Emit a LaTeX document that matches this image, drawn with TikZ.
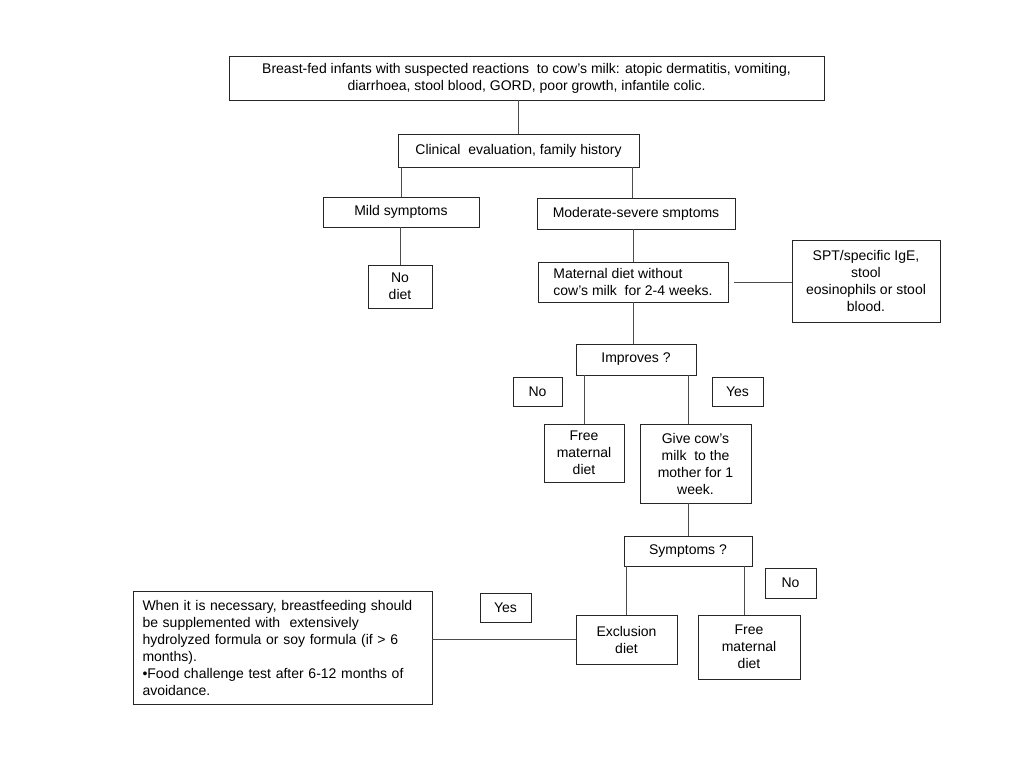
\documentclass[tikz,border=0pt]{standalone}
\usepackage{fontspec}
\setmainfont{Liberation Sans}
\begin{document}
\begin{tikzpicture}[x=1pt,y=-1pt,
  bx/.style={draw=black!85,line width=0.9pt,inner sep=0pt,font=\fontsize{14}{17}\selectfont,align=center},
  ln/.style={draw=black!70,line width=0.9pt}]
\useasboundingbox[fill=white] (0,0) rectangle (1024,768);
\node[bx,minimum width=595,minimum height=44] (top) at (526.5,78) {Breast-fed infants with suspected reactions\ \ to cow’s milk: atopic dermatitis, vomiting,\\diarrhoea, stool blood, GORD, poor growth, infantile colic.};
\node[bx,minimum width=241,minimum height=33] (clin) at (518.5,150.5) {Clinical\ \ evaluation, family history};
\node[bx,minimum width=156,minimum height=30] (mild) at (401,212) {Mild symptoms};
\node[bx,minimum width=198,minimum height=31] (mod) at (636,213.5) {Moderate-severe smptoms};
\node[bx,minimum width=64,minimum height=43] (nod) at (400,286.5) {No\\diet};
\node[bx,minimum width=190,minimum height=40,align=left] (mat) at (633,282) {Maternal diet without\\cow’s milk\ \ for 2-4 weeks.};
\node[bx,minimum width=148,minimum height=82] (spt) at (866,281) {SPT/specific IgE,\\stool\\eosinophils or stool\\blood.};
\node[bx,minimum width=120,minimum height=31] (imp) at (636,359.5) {Improves ?};
\node[bx,minimum width=49,minimum height=29] (no1) at (537.5,391.5) {No};
\node[bx,minimum width=51,minimum height=29] (yes1) at (737.5,391.5) {Yes};
\node[bx,minimum width=80,minimum height=58] (free1) at (584,453) {Free\\maternal\\diet};
\node[bx,minimum width=111,minimum height=79] (give) at (695.5,463.5) {Give cow’s\\milk\ \ to the\\mother for 1\\week.};
\node[bx,minimum width=128,minimum height=30] (sym) at (688,551) {Symptoms ?};
\node[bx,minimum width=51,minimum height=30] (no2) at (790.5,583) {No};
\node[bx,minimum width=51,minimum height=29] (yes2) at (505.5,607.5) {Yes};
\node[bx,minimum width=101,minimum height=49] (excl) at (626.5,639.5) {Exclusion\\diet};
\node[bx,minimum width=102,minimum height=64] (free2) at (749,647) {Free\\maternal\\diet};
\node[bx,minimum width=299,minimum height=113,text width=280,align=left] (big) at (282.5,647.5) {When it is necessary, breastfeeding should\\be supplemented with\ \ extensively\\hydrolyzed formula or soy formula (if > 6\\months).\\•Food challenge test after 6-12 months of\\avoidance.};
% connectors
\draw[ln] (clin.north) -- (clin.north |- top.south);
\draw[ln] (mild.north) -- (mild.north |- clin.south);
\draw[ln] ([xshift=-4]mod.north) coordinate (m1) -- (m1 |- clin.south);
\draw[ln] (nod.north) -- (nod.north |- mild.south);
\draw[ln] (mat.north) -- (mat.north |- mod.south);
\draw[ln,shorten <=6] (mat.east) -- (spt.west |- mat.east);
\draw[ln] (mat.south) -- (mat.south |- imp.north);
\draw[ln] (free1.north) -- (free1.north |- imp.south);
\draw[ln] ([xshift=-8]imp.south east) coordinate (i1) -- (i1 |- give.north);
\draw[ln] (sym.north) -- (sym.north |- give.south);
\draw[ln] (excl.north) -- (excl.north |- sym.south);
\draw[ln] ([xshift=-8]sym.south east) coordinate (s1) -- (s1 |- free2.north);
\draw[ln] (big.east |- excl.west) -- (excl.west);
\end{tikzpicture}
\end{document}
